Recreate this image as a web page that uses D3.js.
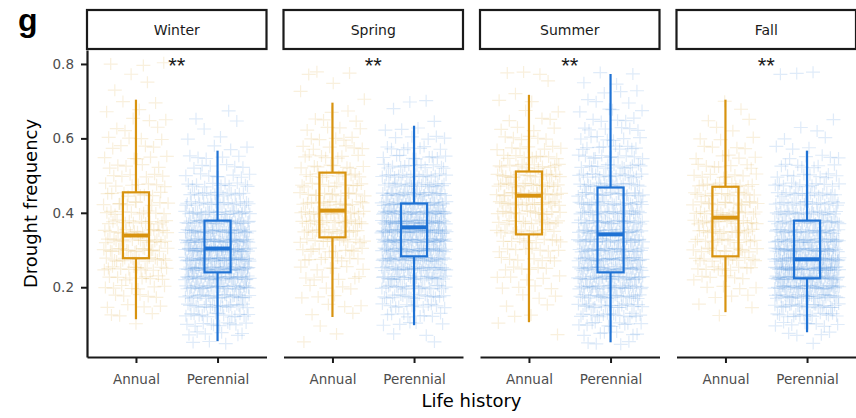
<!DOCTYPE html>
<html>
<head>
<meta charset="utf-8">
<script src="https://cdn.jsdelivr.net/npm/d3@7"></script>
<style>
  body { margin: 0; background: #fff; }
  svg { display: block; }
</style>
</head>
<body>
<div id="main"></div>
<script>
var seasons = ["Winter", "Spring", "Summer", "Fall"];
var lifeHistory = ["Annual", "Perennial"];
var yTicks = [0.2, 0.4, 0.6, 0.8];
var signif = ["**", "**", "**", "**"];

// boxplot per season: [lower whisker, q1, median, q3, upper whisker]
var annualBox = [
    [0.114, 0.278, 0.339, 0.455, 0.704],
    [0.12, 0.334, 0.406, 0.508, 0.696],
    [0.106, 0.342, 0.446, 0.511, 0.717],
    [0.133, 0.283, 0.387, 0.47, 0.704],
];
var perennialBox = [
    [0.055, 0.24, 0.304, 0.379, 0.567],
    [0.098, 0.283, 0.361, 0.425, 0.634],
    [0.052, 0.24, 0.342, 0.468, 0.773],
    [0.079, 0.224, 0.275, 0.379, 0.567],
];

// drought frequency levels of the raw points, and how many points sit on each
var levels = [0.05, 0.075, 0.1, 0.125, 0.15, 0.175, 0.2, 0.225, 0.25, 0.275,
    0.3, 0.325, 0.35, 0.375, 0.4, 0.425, 0.45, 0.475, 0.5, 0.525,
    0.55, 0.575, 0.6, 0.625, 0.65, 0.675, 0.7, 0.725, 0.75, 0.775, 0.8];
var annualCounts = [
    [0, 0, 1, 3, 4, 5, 7, 9, 12, 14, 15, 15, 14, 12, 10, 9, 8, 7, 6, 5, 5, 4, 4, 3, 3, 2, 2, 1, 1, 1, 3],
    [1, 1, 1, 2, 3, 3, 4, 6, 6, 8, 10, 12, 14, 15, 15, 14, 12, 11, 10, 8, 7, 6, 5, 4, 3, 2, 1, 1, 1, 3, 0],
    [0, 1, 1, 2, 2, 3, 4, 5, 6, 7, 8, 10, 11, 13, 14, 16, 17, 16, 14, 12, 9, 7, 6, 4, 3, 2, 2, 1, 1, 3, 0],
    [0, 0, 0, 1, 2, 3, 4, 6, 9, 11, 12, 12, 13, 14, 14, 13, 12, 10, 8, 7, 5, 4, 3, 2, 2, 1, 1, 0, 0, 0, 0],
];
var perennialCounts = [
    [3, 6, 10, 14, 18, 24, 30, 36, 40, 42, 42, 40, 36, 30, 24, 18, 14, 11, 8, 6, 5, 3, 2, 1, 2, 1, 0, 0, 0, 0, 0],
    [1, 2, 5, 8, 12, 16, 20, 26, 30, 34, 38, 42, 44, 42, 38, 32, 26, 20, 16, 12, 9, 7, 5, 3, 1, 1, 2, 0, 0, 0, 0],
    [4, 6, 10, 14, 18, 22, 26, 30, 32, 32, 31, 30, 28, 26, 24, 22, 20, 18, 16, 13, 11, 9, 7, 6, 5, 4, 3, 3, 2, 2, 0],
    [1, 4, 8, 14, 20, 28, 36, 42, 44, 42, 38, 34, 30, 26, 22, 18, 15, 12, 9, 7, 5, 3, 2, 2, 1, 0, 0, 0, 0, 3, 0],
];

var ctx = {
    w: 856,
    h: 418,
    left: 87,
    right: 856,
    top: 50,
    bottom: 357,
    colors: { Annual: "#d8930f", Perennial: "#1f72d4" },
    font: "'DejaVu Sans', sans-serif",
};

var svg = d3.select("#main").append("svg")
    .attr("width", ctx.w)
    .attr("height", ctx.h);

var panel = d3.scaleBand().domain(seasons)
    .range([ctx.left, ctx.right])
    .paddingInner(0.0865);
var pw = panel.bandwidth();

var x = d3.scalePoint().domain(lifeHistory).range([0, pw]).padding(0.6);
var step = x.step();

var y = d3.scaleLinear().domain([0.0125, 0.8375]).range([ctx.bottom, ctx.top]);

// halton sequence, used to spread the jitter evenly
function halton(k, base) {
    var f = 1, r = 0;
    while (k > 0) {
        f = f / base;
        r = r + f * (k % base);
        k = Math.floor(k / base);
    }
    return r;
}

seasons.forEach(function (s, i) {
    var g = svg.append("g").attr("transform", "translate(" + panel(s) + ",0)");

    // strip
    g.append("rect")
        .attr("x", 0).attr("y", 10)
        .attr("width", pw).attr("height", 39)
        .attr("fill", "#fff").attr("stroke", "#1a1a1a").attr("stroke-width", 2.2);
    g.append("text")
        .attr("x", pw / 2).attr("y", 35)
        .attr("text-anchor", "middle")
        .style("font-family", ctx.font).style("font-size", "14px")
        .attr("fill", "#1a1a1a")
        .text(s);

    // jittered points
    lifeHistory.forEach(function (lh, j) {
        var counts = (j === 0 ? annualCounts : perennialCounts)[i];
        var pts = [];
        levels.forEach(function (v, l) {
            for (var c = 0; c < counts[l]; c++) pts.push(v);
        });
        g.append("g").selectAll("path").data(pts).enter().append("path")
            .attr("d", "M-7,0H7M0,-6V6")
            .attr("transform", function (d, k) {
                var dx = (halton(k + 7 * i + 3 * j + 1, 2) - 0.5) * 0.8 * step;
                var dy = (halton(k + 5 * i + 1, 3) - 0.5) * 4;
                return "translate(" + (x(lh) + dx) + "," + (y(d) + dy) + ")";
            })
            .attr("stroke", ctx.colors[lh])
            .attr("stroke-width", 1.2)
            .attr("stroke-opacity", 0.14)
            .attr("fill", "none");
    });

    // boxplots
    lifeHistory.forEach(function (lh, j) {
        var b = (j === 0 ? annualBox : perennialBox)[i];
        var cx = x(lh), bw = 0.32 * step, col = ctx.colors[lh];
        var bg = g.append("g").attr("stroke", col).attr("fill", "none");
        bg.append("line").attr("x1", cx).attr("x2", cx)
            .attr("y1", y(b[0])).attr("y2", y(b[1])).attr("stroke-width", 2.2);
        bg.append("line").attr("x1", cx).attr("x2", cx)
            .attr("y1", y(b[3])).attr("y2", y(b[4])).attr("stroke-width", 2.2);
        bg.append("rect")
            .attr("x", cx - bw / 2).attr("width", bw)
            .attr("y", y(b[3])).attr("height", y(b[1]) - y(b[3]))
            .attr("stroke-width", 2.2);
        bg.append("line").attr("x1", cx - bw / 2).attr("x2", cx + bw / 2)
            .attr("y1", y(b[2])).attr("y2", y(b[2])).attr("stroke-width", 4);
    });

    // significance
    g.append("text")
        .attr("x", pw / 2).attr("y", 73)
        .attr("text-anchor", "middle")
        .style("font-family", "'Liberation Sans', Arial, sans-serif")
        .style("font-size", "22px")
        .attr("fill", "#1a1a1a")
        .text(signif[i]);

    // x axis
    var xa = g.append("g")
        .attr("transform", "translate(0," + ctx.bottom + ")")
        .call(d3.axisBottom(x).tickSize(6).tickSizeOuter(0).tickPadding(11));
    xa.select(".domain").attr("stroke", "#1a1a1a").attr("stroke-width", 2.2);
    xa.selectAll(".tick line").attr("stroke", "#1a1a1a").attr("stroke-width", 2);
    xa.selectAll("text").attr("fill", "#4d4d4d")
        .style("font-family", ctx.font).style("font-size", "13.5px");

    if (i === 0) {
        var ya = g.append("g")
            .call(d3.axisLeft(y).tickValues(yTicks).tickFormat(d3.format(".1f"))
                .tickSize(6).tickSizeOuter(0).tickPadding(7));
        ya.select(".domain").attr("stroke", "#1a1a1a").attr("stroke-width", 2.2);
        ya.selectAll(".tick line").attr("stroke", "#1a1a1a").attr("stroke-width", 2);
        ya.selectAll("text").attr("fill", "#4d4d4d")
            .style("font-family", ctx.font).style("font-size", "13.5px");
    }
});

// axis titles and panel letter
svg.append("text")
    .attr("x", (ctx.left + ctx.right) / 2).attr("y", 407)
    .attr("text-anchor", "middle")
    .style("font-family", ctx.font).style("font-size", "18px")
    .text("Life history");

svg.append("text")
    .attr("transform", "translate(37," + (ctx.top + ctx.bottom) / 2 + ") rotate(-90)")
    .attr("text-anchor", "middle")
    .style("font-family", ctx.font).style("font-size", "18px")
    .text("Drought frequency");

svg.append("text")
    .attr("x", 18).attr("y", 31)
    .style("font-family", "'Liberation Sans', Arial, sans-serif")
    .style("font-size", "32px").style("font-weight", "bold")
    .text("g");
</script>
</body>
</html>
